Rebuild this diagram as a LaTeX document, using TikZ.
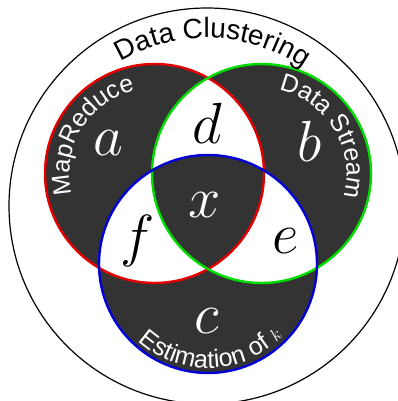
\documentclass[tikz,border=0pt]{standalone}
\usepackage{fix-cm}
\usepackage{fontspec}
\setsansfont{Liberation Sans}
\usetikzlibrary{decorations.text}

\definecolor{vennfill}{RGB}{51,51,51}
\definecolor{ringred}{RGB}{228,0,0}
\definecolor{ringgreen}{RGB}{0,220,0}
\definecolor{ringblue}{RGB}{0,0,215}

\newcommand\titlearcfont{\sffamily\fontsize{28}{30}\selectfont}
\newcommand\setarcfont{\sffamily\fontsize{25}{28}\selectfont}

\begin{document}
\begin{tikzpicture}[x=1pt,y=1pt,
  outerring/.style={draw=black, line width=1.2pt},
  setring/.style={line width=2.4pt},
  setletter/.style={font=\fontsize{58}{60}\selectfont, inner sep=0pt},
  arctext/.style={decorate, decoration={text along path, text align=center, text color=#1}}
]
\useasboundingbox (0,0) rectangle (397,401);

% centres of the outer ring and the three sets
\coordinate (O) at (207,195);
\coordinate (R) at (154.5,227.5);
\coordinate (G) at (261.5,227.5);
\coordinate (B) at (208,137);

% outer ring
\draw[outerring] (O) circle[radius=198];

% regions covered an odd number of times are shaded
\fill[vennfill, even odd rule]
  (R) circle[radius=109.5]
  (G) circle[radius=109.5]
  (B) circle[radius=109];

% set outlines
\draw[setring, ringred]   (R) circle[radius=109.5];
\draw[setring, ringgreen] (G) circle[radius=109.5];
\draw[setring, ringblue]  (B) circle[radius=109];

% curved captions
\path[arctext=black, decoration={text={|\titlearcfont|Data Clustering}}]
  (O) ++(148:168) arc[start angle=148, end angle=28, radius=168];
\path[arctext=white, decoration={text={|\setarcfont|MapReduce}}]
  (R) ++(210:85) arc[start angle=210, end angle=87, radius=85];
\path[arctext=white, decoration={text={|\setarcfont|Data Stream}}]
  (G) ++(92:85) arc[start angle=92, end angle=-30, radius=85];
\path[arctext=white, decoration={text={|\setarcfont|Estimation of {$\scriptstyle k$}}}]
  (B) ++(211:104) arc[start angle=211, end angle=333, radius=104];

% region letters
\node[setletter, text=white] (la) at (108,258) {$a$};
\node[setletter, text=black] (ld) at (207,278) {$d$};
\node[setletter, text=white] (lb) at (310,260) {$b$};
\node[setletter, text=white] (lx) at (205,196) {$x$};
\node[setletter, text=black] (lf) at (138,160) {$f$};
\node[setletter, text=black] (le) at (286,160) {$e$};
\node[setletter, text=white] (lc) at (207,80) {$c$};
\end{tikzpicture}
\end{document}
